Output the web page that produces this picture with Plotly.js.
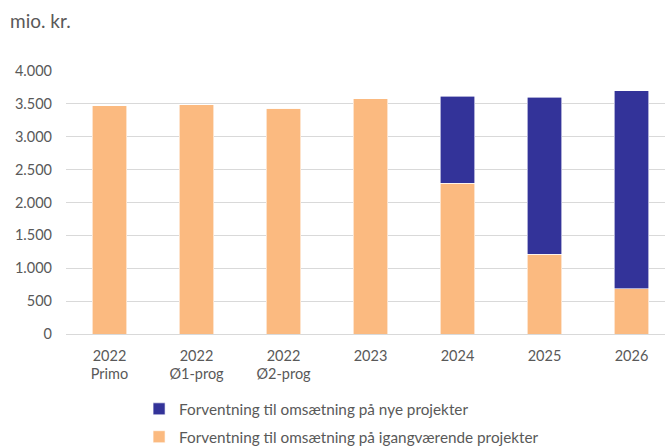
<!DOCTYPE html>
<html>
<head>
<meta charset="utf-8">
<script src="https://cdn.plot.ly/plotly-3.0.1.min.js"></script>
<style>html,body{margin:0;padding:0;background:#fff;}#chart{width:665px;height:448px;}</style>
</head>
<body>
<div id="chart"></div>
<script>
const categories = ["2022<br>Primo", "2022<br>Ø1-prog", "2022<br>Ø2-prog", "2023", "2024", "2025", "2026"];
const igangvaerende = [3470, 3490, 3430, 3575, 2290, 1210, 690];
const nye = [0, 0, 0, 0, 1325, 2390, 3010];
const seriesNames = ["Forventning til omsætning på igangværende projekter", "Forventning til omsætning på nye projekter"];
const yTicks = [0, 500, 1000, 1500, 2000, 2500, 3000, 3500, 4000];

const FONT = "Lato, 'Open Sans', sans-serif";
const GRAY = "#595959";

const traces = [
  {type: "bar", name: seriesNames[0], x: categories, y: igangvaerende,
   marker: {color: "#FBBA80", line: {color: "#ffffff", width: 0.6}}, width: 0.4,
   legendgroup: "a", legendrank: 2, hoverinfo: "skip"},
  {type: "bar", name: seriesNames[1], x: categories, y: nye,
   marker: {color: "#333399", line: {color: "#ffffff", width: 0.6}}, width: 0.4,
   legendgroup: "b", legendrank: 1, hoverinfo: "skip"}
];

const layout = {
  width: 665, height: 448,
  margin: {l: 66, r: 0, t: 71, b: 114, autoexpand: false},
  barmode: "stack",
  separators: ",.",
  paper_bgcolor: "#fff", plot_bgcolor: "#fff",
  font: {family: FONT, size: 14, color: GRAY},
  showlegend: true,
  legend: {x: 0.122, xanchor: "left", y: -0.222, yanchor: "top", traceorder: "grouped",
           tracegroupgap: 5, itemwidth: 30,
           font: {family: FONT, size: 15.3, color: GRAY}, bgcolor: "rgba(0,0,0,0)"},
  xaxis: {type: "category", range: [-0.5, 6.385], showgrid: false, zeroline: false, showline: false,
          ticks: "", ticklabelstandoff: 11, tickfont: {family: FONT, size: 14.5, color: GRAY}, fixedrange: true},
  yaxis: {range: [0, 4000], tickvals: yTicks, tickformat: ",d", showgrid: true, gridcolor: "#d9d9d9",
          gridwidth: 1, zeroline: true, zerolinecolor: "#d9d9d9", zerolinewidth: 1, showline: false,
          ticks: "", ticklabelstandoff: 13, tickfont: {family: FONT, size: 14.5, color: GRAY}, fixedrange: true},
  annotations: [{text: "mio. kr.", xref: "paper", yref: "paper", x: -0.096, xanchor: "left",
                 y: 1.193, yanchor: "middle", showarrow: false,
                 font: {family: FONT, size: 19, color: GRAY}}]
};

Plotly.newPlot("chart", traces, layout, {displayModeBar: false, staticPlot: true});
</script>
</body>
</html>
